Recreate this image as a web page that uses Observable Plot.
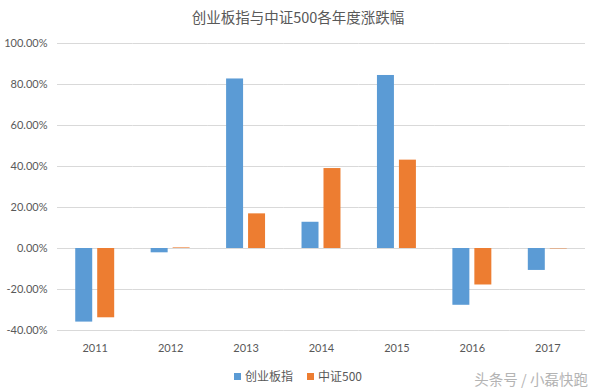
<!DOCTYPE html>
<html>
<head>
<meta charset="utf-8">
<script src="https://cdn.jsdelivr.net/npm/d3@7"></script>
<script src="https://cdn.jsdelivr.net/npm/@observablehq/plot@0.6"></script>
<style>
  html, body { margin: 0; padding: 0; background: #fff; }
  #wrap { position: relative; width: 596px; height: 391px; font-family: Lato, "Noto Sans CJK SC", sans-serif; color: #595959; }
  #title { height: 30px; line-height: 34px; text-align: center; font-size: 14.5px; font-family: "Noto Sans CJK SC", sans-serif; color: #595959; }
  #legend { position: absolute; top: 368px; left: 0; width: 596px; display: flex; justify-content: center; gap: 14px; font-size: 12px; line-height: 16px; font-family: "Noto Sans CJK SC", sans-serif; }
  #legend span.item { display: flex; align-items: center; gap: 4px; }
  #legend span.sw { display: inline-block; width: 7px; height: 7px; }
  #wm { position: absolute; top: 368px; right: 8px; font-size: 14.5px; color: #b4b4b4; font-family: "Noto Sans CJK SC", sans-serif; }
  svg { display: block; }
</style>
</head>
<body>
<div id="wrap">
  <div id="title"></div>
  <div id="chart"></div>
  <div id="legend"></div>
  <div id="wm">头条号 / 小磊快跑</div>
</div>
<script>
const title = "创业板指与中证500各年度涨跌幅";
const years = ["2011", "2012", "2013", "2014", "2015", "2016", "2017"];
const seriesNames = ["创业板指", "中证500"];
const chinext = [-35.9, -2.1, 82.7, 12.8, 84.4, -27.7, -10.7];
const csi500 = [-33.8, 0.3, 16.9, 39.0, 43.1, -17.8, -0.2];
const colors = ["#5B9BD5", "#ED7D31"];
const yTicks = [-40, -20, 0, 20, 40, 60, 80, 100];

const data = [];
years.forEach((y, i) => {
  data.push({year: y, series: seriesNames[0], value: chinext[i]});
  data.push({year: y, series: seriesNames[1], value: csi500[i]});
});

document.getElementById("title").textContent = title;

const chart = Plot.plot({
  width: 596,
  height: 330,
  marginTop: 13,
  marginBottom: 30,
  marginLeft: 57,
  marginRight: 11,
  style: {fontFamily: "Lato, 'Noto Sans CJK SC', sans-serif", fontSize: "11px", color: "#595959", background: "#fff"},
  fx: {domain: years, padding: 0, round: false, label: null},
  x: {domain: seriesNames, paddingInner: 0.227, paddingOuter: 0.83, round: false, axis: null},
  y: {domain: [-40, 100], label: null},
  color: {domain: seriesNames, range: colors},
  marks: [
    Plot.ruleY(yTicks, {stroke: "#d9d9d9", strokeWidth: 1}),
    Plot.barY(data, {fx: "year", x: "series", y: "value", fill: "series"}),
    Plot.axisY(yTicks, {tickSize: 0, tickPadding: 10, tickFormat: d => d.toFixed(2) + "%", label: null}),
    Plot.axisFx({anchor: "bottom", tickSize: 0, tickPadding: 14, label: null})
  ]
});
document.getElementById("chart").appendChild(chart);

const legend = document.getElementById("legend");
seriesNames.forEach((s, i) => {
  const item = document.createElement("span");
  item.className = "item";
  const sw = document.createElement("span");
  sw.className = "sw";
  sw.style.background = colors[i];
  const t = document.createElement("span");
  t.textContent = s;
  item.appendChild(sw);
  item.appendChild(t);
  legend.appendChild(item);
});
</script>
</body>
</html>
